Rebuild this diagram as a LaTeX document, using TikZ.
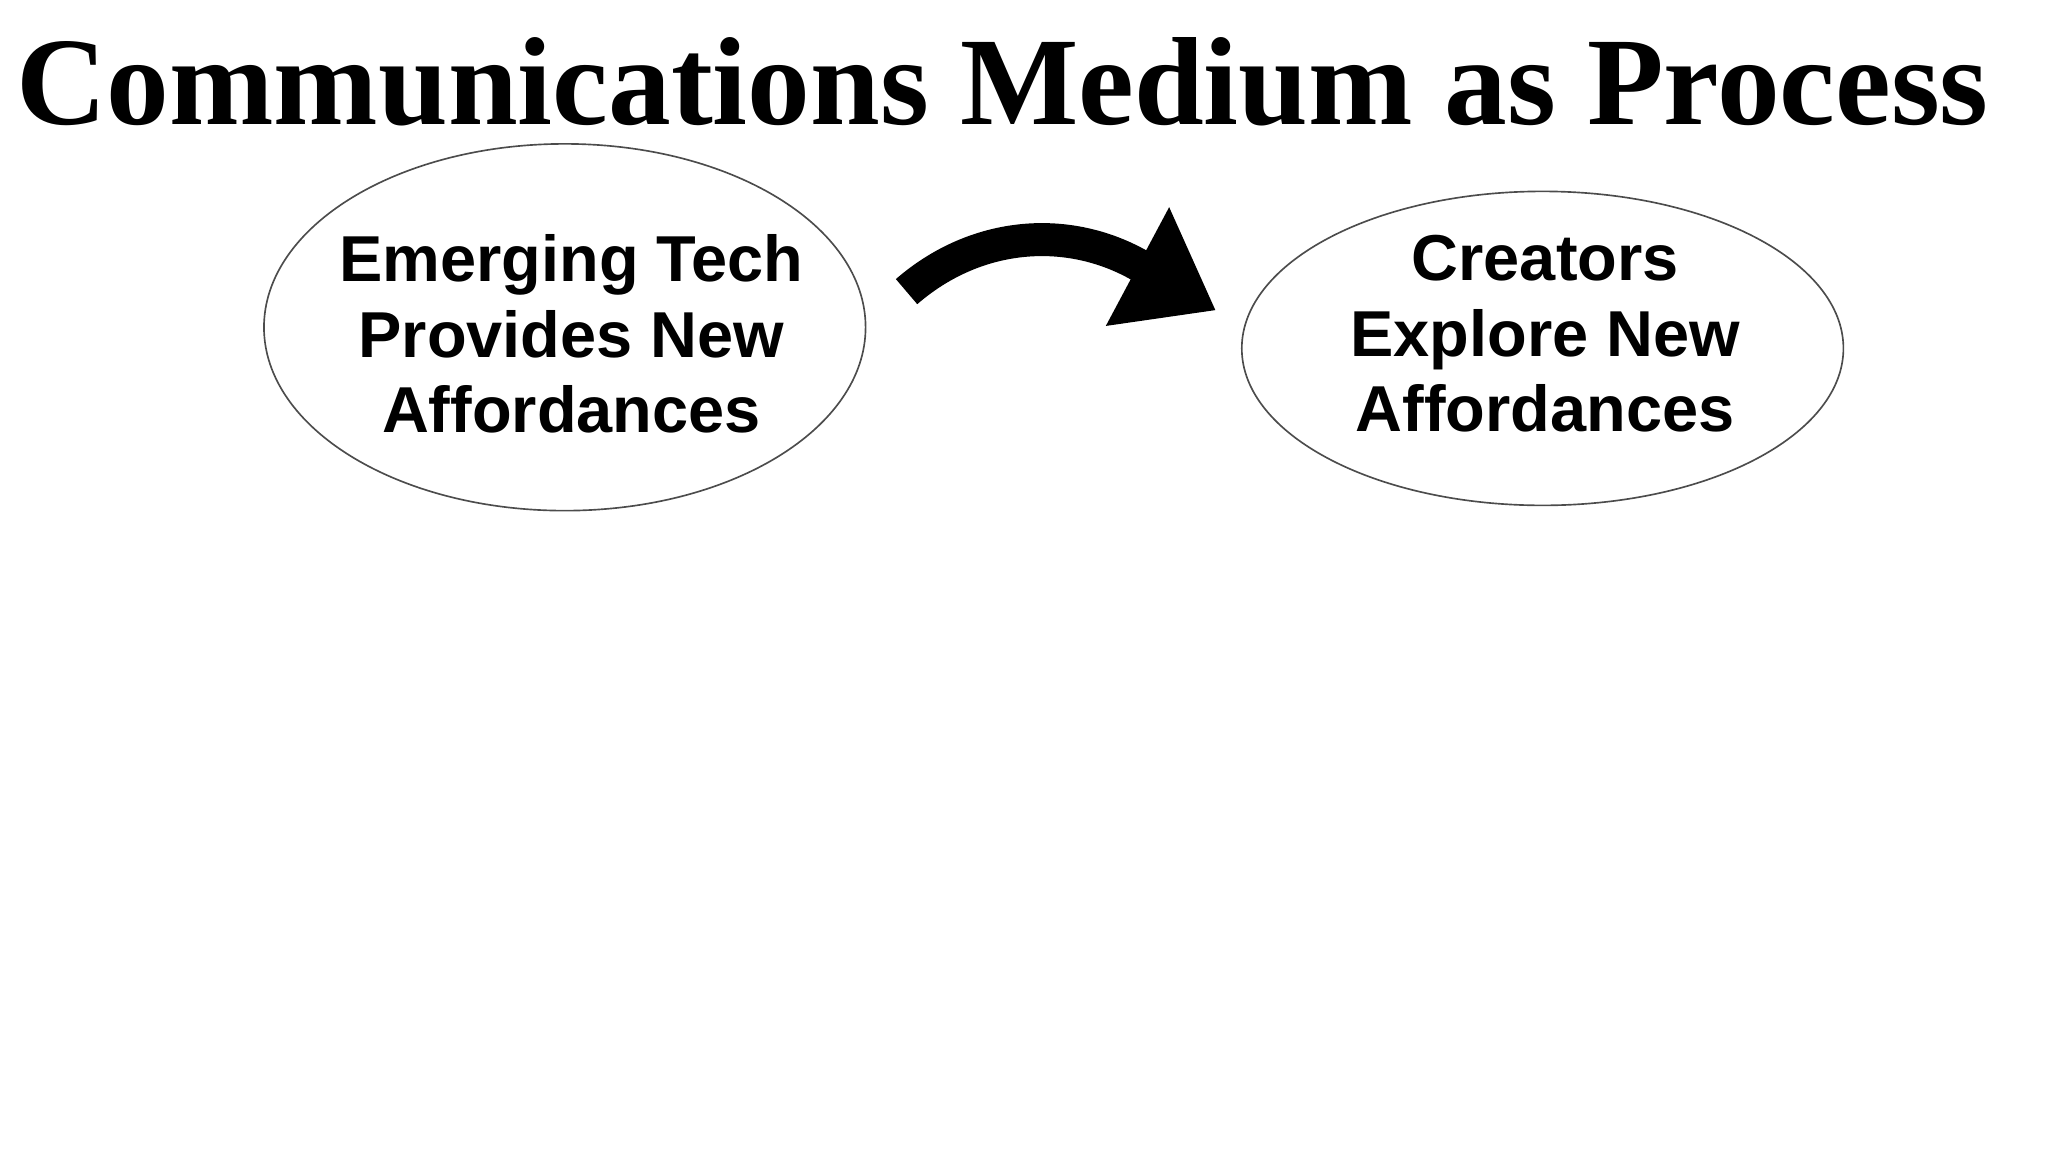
\documentclass[tikz,border=0pt]{standalone}
\usepackage{fontspec}
\setmainfont{Liberation Sans}
\newfontfamily\titlefont{Liberation Serif}
\tikzset{oval/.style={ellipse,draw=black!70,line width=0.025cm,inner sep=0pt},
lbl/.style={align=center,font=\fontsize{28}{32.5}\selectfont\bfseries}}
\usetikzlibrary{shapes.geometric}
\begin{document}
\begin{tikzpicture}[x=0.02cm,y=-0.02cm]
\useasboundingbox (0,0) rectangle (1552,873);
\node[anchor=west,inner sep=0pt] (title) at (12,62) {\titlefont\bfseries\resizebox{29.9cm}{!}{\fontsize{54}{60}\selectfont Communications Medium as Process}};
\node[oval,minimum width=9.12cm,minimum height=5.56cm] (a) at (428,248) {};
\node[lbl] (at) at (433,253) {Emerging Tech\\Provides New\\Affordances};
\node[oval,minimum width=9.12cm,minimum height=4.76cm] (b) at (1169,264) {};
\node[lbl] (bt) at (1171,253) {Creators\\Explore New\\Affordances};
\coordinate (s) at (687,221);
\coordinate (e) at (865,202);
\draw[line width=0.5cm] (s) .. controls (740,175) and (810,170) .. (e);
\fill (886,157) -- (921,235) -- (838,247) -- cycle;
\end{tikzpicture}
\end{document}
